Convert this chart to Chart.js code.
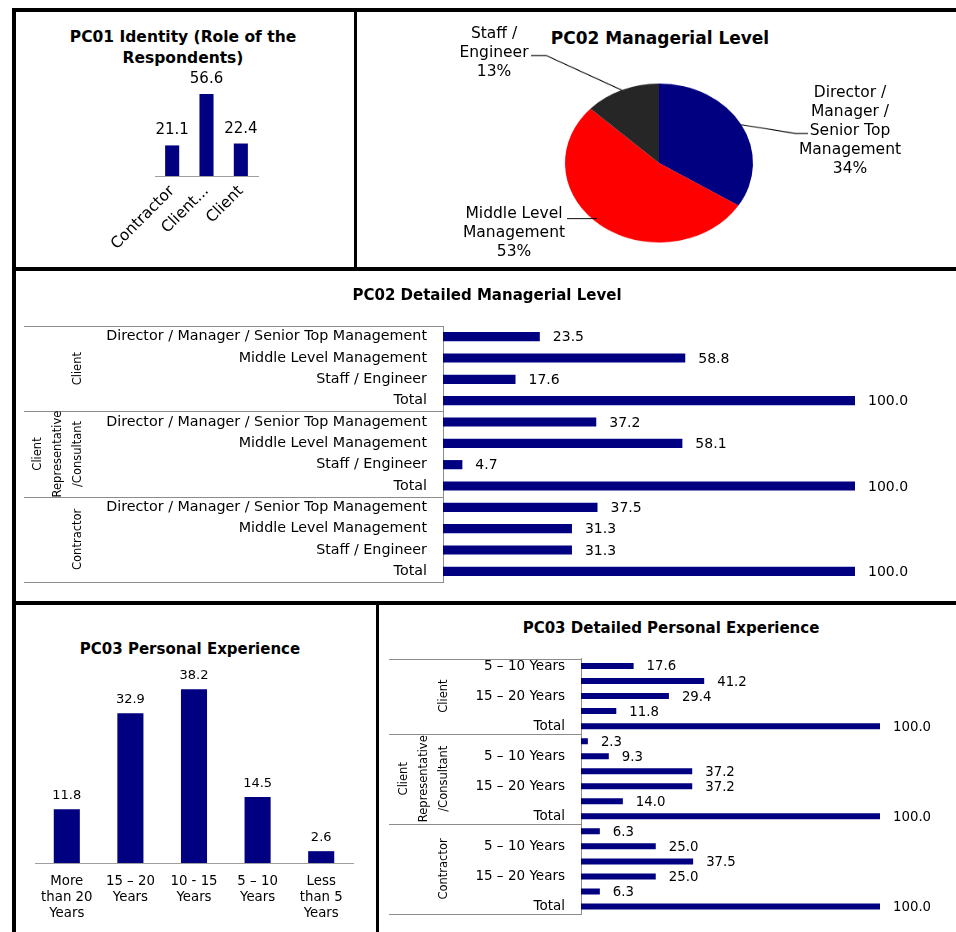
<!DOCTYPE html>
<html>
<head>
<meta charset="utf-8">
<script src="https://cdn.jsdelivr.net/npm/chart.js@4.4.0/dist/chart.umd.min.js"></script>
<style>
  html, body { margin: 0; padding: 0; background: #fff; }
  body { width: 956px; height: 932px; position: relative; overflow: hidden; font-family: "DejaVu Sans", Verdana, sans-serif; color: #000; }
  .rule { position: absolute; background: #000; }
  .title { position: absolute; font-weight: bold; font-size: 15px; line-height: 20px; text-align: center; white-space: nowrap; transform: translateX(-50%); }
  .lbl { position: absolute; font-size: 15.5px; line-height: 19px; text-align: center; white-space: nowrap; transform: translateX(-50%); }
  canvas { position: absolute; }
</style>
</head>
<body>
<!-- panel frame -->
<div class="rule" style="left:12px;top:8px;width:944px;height:4px"></div>
<div class="rule" style="left:12px;top:8px;width:4px;height:924px"></div>
<div class="rule" style="left:12px;top:267px;width:944px;height:4px"></div>
<div class="rule" style="left:12px;top:601px;width:944px;height:4px"></div>
<div class="rule" style="left:354px;top:8px;width:3px;height:263px"></div>
<div class="rule" style="left:376px;top:601px;width:3px;height:331px"></div>

<div class="title" style="left:183px;top:27px;font-size:15.5px;line-height:21px">PC01 Identity (Role of the<br>Respondents)</div>
<canvas id="roleChart" width="220" height="205" style="left:100px;top:60px"></canvas>

<div class="title" style="left:660px;top:28px;font-size:17px">PC02 Managerial Level</div>
<canvas id="levelPie" width="599" height="300" style="left:357px;top:12.5px;transform-origin:302px 150px;transform:scaleY(0.8457)"></canvas>
<div class="lbl" style="left:494px;top:24px">Staff /<br>Engineer<br>13%</div>
<div class="lbl" style="left:850px;top:83px">Director /<br>Manager /<br>Senior Top<br>Management<br>34%</div>
<div class="lbl" style="left:514px;top:204px">Middle Level<br>Management<br>53%</div>

<div class="title" style="left:487px;top:285px">PC02 Detailed Managerial Level</div>
<canvas id="levelDetail" width="940" height="330" style="left:16px;top:271px"></canvas>

<div class="title" style="left:190px;top:639px">PC03 Personal Experience</div>
<canvas id="expChart" width="360" height="325" style="left:16px;top:605px"></canvas>

<div class="title" style="left:671px;top:618px">PC03 Detailed Personal Experience</div>
<canvas id="expDetail" width="577" height="325" style="left:379px;top:605px"></canvas>

<script>
// PC01 role of the respondents (%)
const roleLabels = ["Contractor", "Client...", "Client"]
const roleValues = [21.1, 56.6, 22.4]

// PC02 managerial level (%)
const levelLabels = ["Director / Manager / Senior Top Management", "Middle Level Management", "Staff / Engineer"]
const levelShares = [34, 53, 13]

// PC02 detailed, per respondent group
const groupNames = ["Client", "Client Representative /Consultant", "Contractor"]
const levelRows = ["Director / Manager / Senior Top Management", "Middle Level Management", "Staff / Engineer", "Total"]
const levelClient = [23.5, 58.8, 17.6, 100.0]
const levelConsultant = [37.2, 58.1, 4.7, 100.0]
const levelContractor = [37.5, 31.3, 31.3, 100.0]

// PC03 personal experience (%)
const expLabels = [["More", "than 20", "Years"], ["15 – 20", "Years"], ["10 - 15", "Years"], ["5 – 10", "Years"], ["Less", "than 5", "Years"]]
const expValues = [11.8, 32.9, 38.2, 14.5, 2.6]

// PC03 detailed, per respondent group
const expClientRows = ["5 – 10 Years", "10 – 15 Years", "15 – 20 Years", "More than 20 Years", "Total"]
const expRows = ["Less than 5 Years", "5 – 10 Years", "10 – 15 Years", "15 – 20 Years", "More than 20 Years", "Total"]
const expClient = [17.6, 41.2, 29.4, 11.8, 100.0]
const expConsultant = [2.3, 9.3, 37.2, 37.2, 14.0, 100.0]
const expContractor = [6.3, 25.0, 37.5, 25.0, 6.3, 100.0]

const NAVY = "#000080"
const AXIS_GREY = "#a0a0a0"
const RULE_GREY = "#8c8c8c"
const FONT = '"DejaVu Sans", Verdana, sans-serif'

Chart.defaults.font.family = FONT
Chart.defaults.color = "#000"
Chart.defaults.animation = false
Chart.defaults.plugins.legend.display = false
Chart.defaults.plugins.tooltip.enabled = false

// numbers next to / above each bar
const valueLabels = {
  id: "valueLabels",
  afterDatasetsDraw(chart, args, opts) {
    const { ctx } = chart
    const horizontal = chart.options.indexAxis === "y"
    const values = chart.data.datasets[0].data
    ctx.save()
    ctx.font = `${opts.size}px ${FONT}`
    ctx.fillStyle = "#000"
    chart.getDatasetMeta(0).data.forEach((bar, i) => {
      const text = values[i].toFixed(1)
      if (horizontal) {
        ctx.textAlign = "left"
        ctx.textBaseline = "middle"
        ctx.fillText(text, bar.x + opts.gap, bar.y + 1)
      } else {
        ctx.textAlign = "center"
        ctx.textBaseline = "alphabetic"
        ctx.fillText(text, bar.x, bar.y - opts.gap)
      }
    })
    ctx.restore()
  },
}

// outer level of the category axis: rules between groups and rotated group names
const groupFrame = {
  id: "groupFrame",
  afterDraw(chart, args, opts) {
    const { ctx, chartArea } = chart
    const y = chart.scales.y
    const step = y.getPixelForValue(1) - y.getPixelForValue(0)
    const edge = (i) => y.getPixelForValue(i) - step / 2
    const bounds = [0]
    opts.counts.forEach((c) => bounds.push(bounds[bounds.length - 1] + c))

    ctx.save()
    ctx.strokeStyle = RULE_GREY
    ctx.lineWidth = 1
    bounds.forEach((b) => {
      const py = Math.round(edge(b)) + 0.5
      ctx.beginPath()
      ctx.moveTo(opts.left, py)
      ctx.lineTo(chartArea.left, py)
      ctx.stroke()
    })

    ctx.font = `${opts.size}px ${FONT}`
    ctx.fillStyle = "#000"
    ctx.textAlign = "center"
    ctx.textBaseline = "middle"
    groupNames.forEach((name, gi) => {
      const mid = (edge(bounds[gi]) + edge(bounds[gi + 1])) / 2
      const lines = name.split(" ")
      lines.forEach((line, li) => {
        const px = opts.labelX - (lines.length - 1 - li) * opts.lineGap
        ctx.save()
        ctx.translate(px, mid)
        ctx.rotate(-Math.PI / 2)
        ctx.fillText(line, 0, 0)
        ctx.restore()
      })
    })
    ctx.restore()
  },
}

// pie canvas is squashed vertically with css to give the elliptical pie
const PIE_LEFT = 357
const PIE_OY = 150
const PIE_PAGE_Y = 162.5
const PIE_K = 0.8457
const toPie = (p) => [p[0] - PIE_LEFT, PIE_OY + (p[1] - PIE_PAGE_Y) / PIE_K]

const pieLeaders = {
  id: "pieLeaders",
  afterDatasetsDraw(chart, args, opts) {
    const { ctx } = chart
    const arcs = chart.getDatasetMeta(0).data
    ctx.save()
    ctx.strokeStyle = "#000"
    ctx.lineWidth = 1.1
    opts.leaders.forEach(({ index, points, tip }) => {
      const arc = arcs[index]
      const mid = (arc.startAngle + arc.endAngle) / 2
      const path = points.map(toPie)
      if (tip !== false) {
        path.push([arc.x + arc.outerRadius * Math.cos(mid), arc.y + arc.outerRadius * Math.sin(mid)])
      }
      ctx.beginPath()
      path.forEach((p, i) => (i ? ctx.lineTo(p[0], p[1]) : ctx.moveTo(p[0], p[1])))
      ctx.stroke()
    })
    ctx.restore()
  },
}

const flatAxis = (height) => (scale) => {
  scale.height = height
  scale.paddingLeft = 0
  scale.paddingRight = 0
}
const labelAxis = (width) => (scale) => {
  scale.width = width
  scale.paddingTop = 0
  scale.paddingBottom = 0
}

// PC01
new Chart(document.getElementById("roleChart"), {
  type: "bar",
  data: {
    labels: roleLabels,
    datasets: [{ data: roleValues, backgroundColor: NAVY, categoryPercentage: 1, barPercentage: 0.41 }],
  },
  options: {
    responsive: false,
    devicePixelRatio: 1,
    layout: { padding: { left: 55, right: 62, top: 29, bottom: 0 } },
    scales: {
      x: {
        grid: { display: false, drawTicks: false },
        border: { display: true, color: AXIS_GREY },
        ticks: { minRotation: 45, maxRotation: 45, autoSkip: false, padding: 6, font: { size: 15.5 } },
        afterFit: flatAxis(89),
      },
      y: { display: false, min: 0, max: 60 },
    },
    plugins: { valueLabels: { size: 15, gap: 11 } },
  },
  plugins: [valueLabels],
})

// PC02 pie
new Chart(document.getElementById("levelPie"), {
  type: "pie",
  data: {
    labels: levelLabels,
    datasets: [{ data: levelShares, backgroundColor: [NAVY, "#ff0000", "#262626"], borderWidth: 0 }],
  },
  options: {
    responsive: false,
    devicePixelRatio: 1,
    layout: { padding: { left: 208, right: 203, top: 56, bottom: 56 } },
    plugins: {
      pieLeaders: {
        leaders: [
          { index: 2, points: [[531, 55], [546, 55]] },
          { index: 0, points: [[808, 133], [796, 133]] },
          { index: 1, points: [[567, 218], [597, 218]], tip: false },
        ],
      },
    },
  },
  plugins: [pieLeaders],
})

// PC02 detailed
new Chart(document.getElementById("levelDetail"), {
  type: "bar",
  data: {
    labels: [...levelRows, ...levelRows, ...levelRows],
    datasets: [{
      data: [...levelClient, ...levelConsultant, ...levelContractor],
      backgroundColor: NAVY,
      categoryPercentage: 1,
      barPercentage: 0.43,
    }],
  },
  options: {
    indexAxis: "y",
    responsive: false,
    devicePixelRatio: 1,
    layout: { padding: { left: 0, right: 101, top: 55, bottom: 19 } },
    scales: {
      x: { display: false, min: 0, max: 100 },
      y: {
        grid: { display: false, drawTicks: false },
        border: { display: true, color: RULE_GREY },
        ticks: { autoSkip: false, padding: 16, font: { size: 14.3 } },
        afterFit: labelAxis(427),
      },
    },
    plugins: {
      valueLabels: { size: 14, gap: 13 },
      groupFrame: { counts: [4, 4, 4], left: 8, labelX: 62, lineGap: 20, size: 11.5 },
    },
  },
  plugins: [valueLabels, groupFrame],
})

// PC03
new Chart(document.getElementById("expChart"), {
  type: "bar",
  data: {
    labels: expLabels,
    datasets: [{ data: expValues, backgroundColor: NAVY, categoryPercentage: 1, barPercentage: 0.41 }],
  },
  options: {
    responsive: false,
    devicePixelRatio: 1,
    layout: { padding: { left: 19, right: 23, top: 76, bottom: 0 } },
    scales: {
      x: {
        grid: { display: false, drawTicks: false },
        border: { display: true, color: AXIS_GREY },
        ticks: { autoSkip: false, maxRotation: 0, padding: 11, font: { size: 13.3, lineHeight: 1.2 } },
        afterFit: flatAxis(67),
      },
      y: { display: false, min: 0, max: 40 },
    },
    plugins: { valueLabels: { size: 13, gap: 10 } },
  },
  plugins: [valueLabels],
})

// PC03 detailed
new Chart(document.getElementById("expDetail"), {
  type: "bar",
  data: {
    labels: [...expClientRows, ...expRows, ...expRows],
    datasets: [{
      data: [...expClient, ...expConsultant, ...expContractor],
      backgroundColor: NAVY,
      categoryPercentage: 1,
      barPercentage: 0.4,
    }],
  },
  options: {
    indexAxis: "y",
    responsive: false,
    devicePixelRatio: 1,
    layout: { padding: { left: 0, right: 76, top: 53.5, bottom: 16 } },
    scales: {
      x: { display: false, min: 0, max: 100 },
      y: {
        grid: { display: false, drawTicks: false },
        border: { display: true, color: RULE_GREY },
        ticks: {
          autoSkip: false,
          padding: 16,
          font: { size: 13.5 },
          // only every second row gets its name, as in the source
          callback(value, index) {
            return index % 2 === 0 ? this.getLabelForValue(value) : ""
          },
        },
        afterFit: labelAxis(202),
      },
    },
    plugins: {
      valueLabels: { size: 13.3, gap: 13 },
      groupFrame: { counts: [5, 6, 6], left: 10, labelX: 65.5, lineGap: 20, size: 11.5 },
    },
  },
  plugins: [valueLabels, groupFrame],
})
</script>
</body>
</html>
